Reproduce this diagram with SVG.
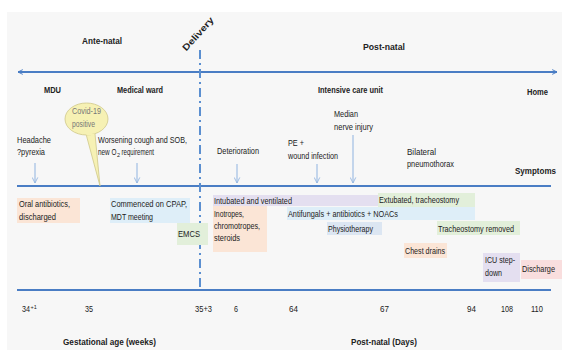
<svg xmlns="http://www.w3.org/2000/svg" width="562" height="350" viewBox="0 0 562 350">
<defs>
<style>
text{font-family:"Liberation Sans",Arial,sans-serif;font-size:9px;fill:#222}
.b{font-weight:bold}
.s{font-size:5.5px}
.axis{stroke:#4a7dc4;stroke-width:2;fill:none}
.sym{stroke:#8fb3e0;stroke-width:1;fill:none}
.cv{fill:#777}
</style>
<marker id="ah" viewBox="0 0 10 10" refX="9" refY="5" markerWidth="6" markerHeight="6" orient="auto-start-reverse" markerUnits="userSpaceOnUse">
<path d="M1,1 L9,5 L1,9" fill="none" stroke="#4a7dc4" stroke-width="1.6"/>
</marker>
<marker id="sh" viewBox="0 0 10 10" refX="9" refY="5" markerWidth="7" markerHeight="7" orient="auto" markerUnits="userSpaceOnUse">
<path d="M1,1 L9,5 L1,9" fill="none" stroke="#8fb3e0" stroke-width="1.2"/>
</marker>
</defs>
<rect x="7" y="12" width="555" height="338" fill="#f7f7f7"/>

<g id="connectors">
<line class="axis" x1="18" y1="72" x2="557" y2="72" marker-start="url(#ah)" marker-end="url(#ah)"/>
<line class="axis" x1="17" y1="186" x2="551" y2="186"/>
<line class="axis" x1="17" y1="290" x2="551" y2="290"/>
<line x1="200" y1="50" x2="200" y2="290" stroke="#5b8fd0" stroke-width="2" stroke-dasharray="9 4 2 4"/>
<line class="sym" x1="35" y1="163" x2="35" y2="183" marker-end="url(#sh)"/>
<line class="sym" x1="137" y1="163" x2="137" y2="183" marker-end="url(#sh)"/>
<line class="sym" x1="237" y1="164" x2="237" y2="183" marker-end="url(#sh)"/>
<line class="sym" x1="317" y1="164" x2="317" y2="183" marker-end="url(#sh)"/>
<line class="sym" x1="353" y1="135" x2="353" y2="183" marker-end="url(#sh)"/>
</g>

<g id="headers">
<text class="b" x="82" y="44" textLength="40" lengthAdjust="spacingAndGlyphs">Ante-natal</text>
<text class="b" x="363" y="50" textLength="42" lengthAdjust="spacingAndGlyphs">Post-natal</text>
<text class="b" transform="translate(198,34) rotate(-48)" x="-21" y="3" textLength="42" lengthAdjust="spacingAndGlyphs">Delivery</text>
<text class="b" x="44" y="93" textLength="17" lengthAdjust="spacingAndGlyphs">MDU</text>
<text class="b" x="117" y="93" textLength="46" lengthAdjust="spacingAndGlyphs">Medical ward</text>
<text class="b" x="318" y="93" textLength="65" lengthAdjust="spacingAndGlyphs">Intensive care unit</text>
<text class="b" x="527" y="95" textLength="21" lengthAdjust="spacingAndGlyphs">Home</text>
<text class="b" x="515" y="174" textLength="41" lengthAdjust="spacingAndGlyphs">Symptoms</text>
</g>

<g id="covid">
<path d="M86,134 L100,186 L95,134 Z" fill="#f6f1b4" stroke="#cfc889" stroke-width="0.8"/>
<ellipse cx="86.5" cy="119" rx="21.5" ry="16" fill="#f6f1b4" stroke="#cfc889" stroke-width="0.8"/>
<path d="M86.5,134.5 L94.5,134.5" stroke="#f6f1b4" stroke-width="1.6"/>
<text class="cv" x="72" y="114" textLength="29" lengthAdjust="spacingAndGlyphs">Covid-19</text>
<text class="cv" x="72" y="126.5" textLength="23" lengthAdjust="spacingAndGlyphs">positive</text>
</g>

<g id="symptoms">
<text x="17" y="143" textLength="34" lengthAdjust="spacingAndGlyphs">Headache</text>
<text x="17" y="155" textLength="28" lengthAdjust="spacingAndGlyphs">?pyrexia</text>
<text x="98" y="143" textLength="89" lengthAdjust="spacingAndGlyphs">Worsening cough and SOB,</text>
<text y="155"><tspan x="98" textLength="18.5" lengthAdjust="spacingAndGlyphs">new O</tspan><tspan class="s" x="117" y="157">2</tspan><tspan x="121.5" y="155" textLength="32.5" lengthAdjust="spacingAndGlyphs">requirement</tspan></text>
<text x="217" y="154" textLength="42" lengthAdjust="spacingAndGlyphs">Deterioration</text>
<text x="288" y="146" textLength="16" lengthAdjust="spacingAndGlyphs">PE +</text>
<text x="288" y="159" textLength="50" lengthAdjust="spacingAndGlyphs">wound infection</text>
<text x="334" y="117" textLength="24" lengthAdjust="spacingAndGlyphs">Median</text>
<text x="334" y="130" textLength="39" lengthAdjust="spacingAndGlyphs">nerve injury</text>
<text x="407" y="155" textLength="29" lengthAdjust="spacingAndGlyphs">Bilateral</text>
<text x="407" y="167" textLength="47" lengthAdjust="spacingAndGlyphs">pneumothorax</text>
</g>

<g id="oral">
<rect x="17" y="198" width="63" height="25" fill="#fbe5d6"/>
<text x="19" y="207" textLength="51" lengthAdjust="spacingAndGlyphs">Oral antibiotics,</text>
<text x="19" y="219.5" textLength="37" lengthAdjust="spacingAndGlyphs">discharged</text>
</g>
<g id="cpap">
<rect x="110" y="198" width="80" height="25" fill="#deeef8"/>
<text x="111" y="207" textLength="76" lengthAdjust="spacingAndGlyphs">Commenced on CPAP,</text>
<text x="111" y="219.5" textLength="42" lengthAdjust="spacingAndGlyphs">MDT meeting</text>
</g>
<g id="emcs">
<rect x="177" y="223" width="31" height="22" fill="#e2efda"/>
<text x="178" y="237" textLength="22" lengthAdjust="spacingAndGlyphs">EMCS</text>
</g>
<g id="intubated">
<rect x="213" y="195" width="165" height="11" fill="#e4dff0"/>
<text x="214" y="203.5" textLength="78" lengthAdjust="spacingAndGlyphs">Intubated and ventilated</text>
</g>
<g id="inotropes">
<rect x="213" y="206" width="54" height="46" fill="#fbe5d6"/>
<text x="214" y="216.5" textLength="30" lengthAdjust="spacingAndGlyphs">Inotropes,</text>
<text x="214" y="229" textLength="46" lengthAdjust="spacingAndGlyphs">chromotropes,</text>
<text x="214" y="241" textLength="26" lengthAdjust="spacingAndGlyphs">steroids</text>
</g>
<g id="extubated">
<rect x="378" y="193" width="97" height="14" fill="#e2efda"/>
<text x="379" y="203" textLength="80" lengthAdjust="spacingAndGlyphs">Extubated, tracheostomy</text>
</g>
<g id="antifungals">
<rect x="287" y="207" width="188" height="13" fill="#deeef8"/>
<text x="288" y="217" textLength="110" lengthAdjust="spacingAndGlyphs">Antifungals + antibiotics + NOACs</text>
</g>
<g id="physio">
<rect x="327" y="222" width="55" height="13" fill="#dce6f2"/>
<text x="328" y="232" textLength="45" lengthAdjust="spacingAndGlyphs">Physiotherapy</text>
</g>
<g id="trachremoved">
<rect x="437" y="221" width="83" height="14" fill="#e2efda"/>
<text x="438" y="231.5" textLength="76" lengthAdjust="spacingAndGlyphs">Tracheostomy removed</text>
</g>
<g id="chest">
<rect x="404" y="243" width="43" height="15" fill="#fbe5d6"/>
<text x="405" y="253.5" textLength="40" lengthAdjust="spacingAndGlyphs">Chest drains</text>
</g>
<g id="icu">
<rect x="483" y="253" width="37" height="29" fill="#e4dff0"/>
<text x="485" y="263" textLength="30" lengthAdjust="spacingAndGlyphs">ICU step-</text>
<text x="485" y="275.5" textLength="17" lengthAdjust="spacingAndGlyphs">down</text>
</g>
<g id="discharge">
<rect x="521" y="260" width="41" height="19" fill="#f9dede"/>
<text x="522" y="272" textLength="33" lengthAdjust="spacingAndGlyphs">Discharge</text>
</g>

<g id="ticks">
<text y="312"><tspan x="22" textLength="8" lengthAdjust="spacingAndGlyphs">34</tspan><tspan class="s" x="30.5" y="308.5">+1</tspan></text>
<text x="85" y="312" textLength="8" lengthAdjust="spacingAndGlyphs">35</text>
<text x="195" y="312" textLength="17" lengthAdjust="spacingAndGlyphs">35+3</text>
<text x="234" y="312" textLength="4" lengthAdjust="spacingAndGlyphs">6</text>
<text x="289" y="312" textLength="9" lengthAdjust="spacingAndGlyphs">64</text>
<text x="380" y="312" textLength="9" lengthAdjust="spacingAndGlyphs">67</text>
<text x="467" y="312" textLength="9" lengthAdjust="spacingAndGlyphs">94</text>
<text x="501" y="312" textLength="12" lengthAdjust="spacingAndGlyphs">108</text>
<text x="531" y="312" textLength="12" lengthAdjust="spacingAndGlyphs">110</text>
<text class="b" x="63" y="345" textLength="93" lengthAdjust="spacingAndGlyphs">Gestational age (weeks)</text>
<text class="b" x="351" y="345" textLength="66" lengthAdjust="spacingAndGlyphs">Post-natal (Days)</text>
</g>
</svg>
